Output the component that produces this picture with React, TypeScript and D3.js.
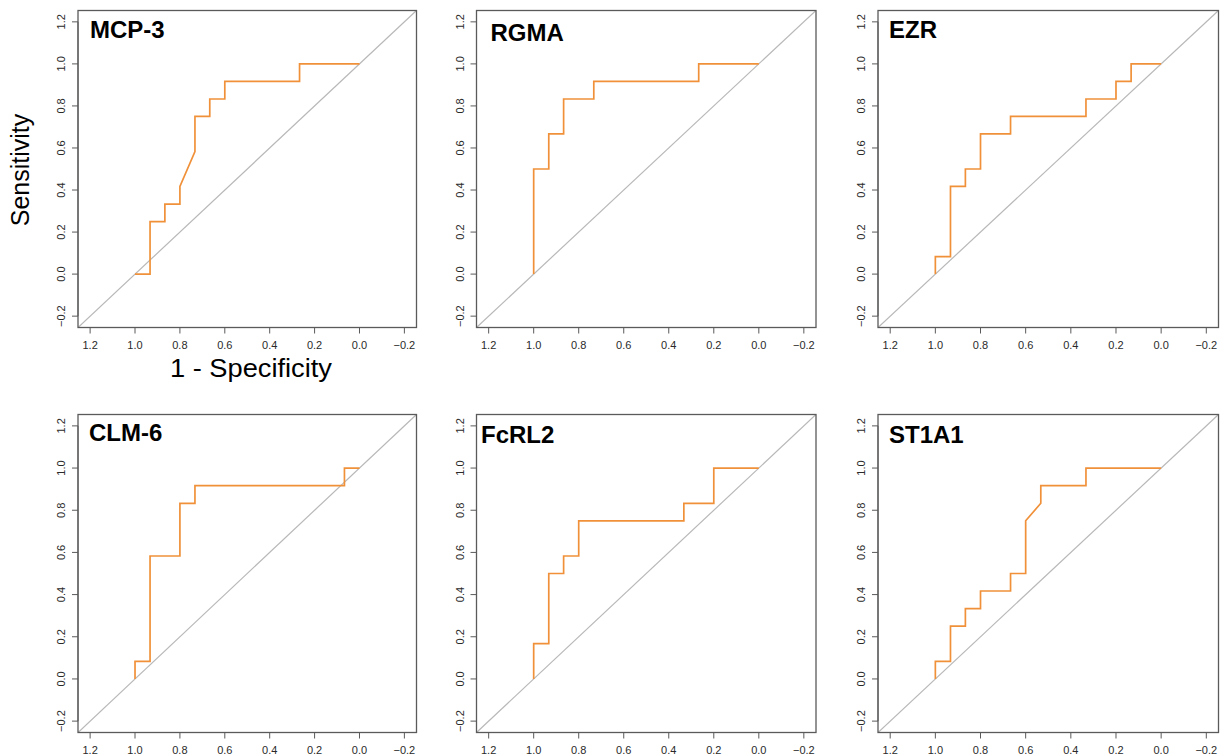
import React from "react";
import * as d3 from "d3";

// ROC curves: specificity (x, reversed) vs sensitivity (y)
const markers = ["MCP-3", "RGMA", "EZR", "CLM-6", "FcRL2", "ST1A1"];

const mcp3Spec = [1, 0.933, 0.933, 0.867, 0.867, 0.8, 0.8, 0.733, 0.733, 0.667, 0.667, 0.6, 0.6, 0.267, 0.267, 0];
const mcp3Sens = [0, 0, 0.25, 0.25, 0.333, 0.333, 0.417, 0.583, 0.75, 0.75, 0.833, 0.833, 0.917, 0.917, 1, 1];

const rgmaSpec = [1, 1, 0.933, 0.933, 0.867, 0.867, 0.733, 0.733, 0.267, 0.267, 0];
const rgmaSens = [0, 0.5, 0.5, 0.667, 0.667, 0.833, 0.833, 0.917, 0.917, 1, 1];

const ezrSpec = [1, 1, 0.933, 0.933, 0.867, 0.867, 0.8, 0.8, 0.667, 0.667, 0.333, 0.333, 0.2, 0.2, 0.133, 0.133, 0];
const ezrSens = [0, 0.083, 0.083, 0.417, 0.417, 0.5, 0.5, 0.667, 0.667, 0.75, 0.75, 0.833, 0.833, 0.917, 0.917, 1, 1];

const clm6Spec = [1, 1, 0.933, 0.933, 0.8, 0.8, 0.733, 0.733, 0.067, 0.067, 0];
const clm6Sens = [0, 0.083, 0.083, 0.583, 0.583, 0.833, 0.833, 0.917, 0.917, 1, 1];

const fcrl2Spec = [1, 1, 0.933, 0.933, 0.867, 0.867, 0.8, 0.8, 0.333, 0.333, 0.2, 0.2, 0];
const fcrl2Sens = [0, 0.167, 0.167, 0.5, 0.5, 0.583, 0.583, 0.75, 0.75, 0.833, 0.833, 1, 1];

const st1a1Spec = [1, 1, 0.933, 0.933, 0.867, 0.867, 0.8, 0.8, 0.667, 0.667, 0.6, 0.6, 0.533, 0.533, 0.333, 0.333, 0];
const st1a1Sens = [0, 0.083, 0.083, 0.25, 0.25, 0.333, 0.333, 0.417, 0.417, 0.5, 0.5, 0.75, 0.833, 0.917, 0.917, 1, 1];

const specs = [mcp3Spec, rgmaSpec, ezrSpec, clm6Spec, fcrl2Spec, st1a1Spec];
const senss = [mcp3Sens, rgmaSens, ezrSens, clm6Sens, fcrl2Sens, st1a1Sens];

const tickValues = [1.2, 1.0, 0.8, 0.6, 0.4, 0.2, 0.0, -0.2];

// panel boxes
const colLeft = [78, 476.5, 878];
const colRight = [416.5, 816, 1218.5];
const rowTop = [10.5, 414.5];
const rowBottom = [327.5, 732.5];
const titleOffset = [[12, 27], [14, 30], [11, 27], [11, 26.5], [4.5, 28.5], [11, 28.5]];

const lo = -0.254;
const hi = 1.254;
const orange = "#f0913a";
const boxCol = "#5a5a5a";
const font = "'Liberation Sans', Arial, Helvetica, sans-serif";

const fmt = (v: number) => (v < 0 ? "\u2212" + Math.abs(v).toFixed(1) : v.toFixed(1));

const Panel = ({ i }: { i: number }) => {
  const col = i % 3;
  const row = Math.floor(i / 3);
  const x0 = colLeft[col], x1 = colRight[col];
  const y0 = rowTop[row], y1 = rowBottom[row];

  const x = d3.scaleLinear().domain([hi, lo]).range([x0, x1]);
  const y = d3.scaleLinear().domain([lo, hi]).range([y1, y0]);

  const pts: [number, number][] = specs[i].map((s, k) => [s, senss[i][k]]);
  const line = d3.line<[number, number]>().x(d => x(d[0])).y(d => y(d[1]));

  const clipId = "clip" + i;
  return (
    <g>
      <defs>
        <clipPath id={clipId}>
          <rect x={x0} y={y0} width={x1 - x0} height={y1 - y0} />
        </clipPath>
      </defs>
      <line x1={x(hi)} y1={y(1 - hi)} x2={x(lo)} y2={y(1 - lo)}
        stroke="#b8b8b8" strokeWidth={1.2} clipPath={`url(#${clipId})`} />
      <path d={line(pts) || ""} fill="none" stroke={orange} strokeWidth={1.7} />
      <rect x={x0} y={y0} width={x1 - x0} height={y1 - y0} fill="none" stroke={boxCol} strokeWidth={1.3} />

      {/* x axis */}
      <line x1={x(1.2)} x2={x(-0.2)} y1={y1} y2={y1} stroke={boxCol} strokeWidth={1} />
      {tickValues.map(t => (
        <g key={"x" + t}>
          <line x1={x(t)} x2={x(t)} y1={y1} y2={y1 + 6} stroke={boxCol} strokeWidth={1} />
          <text x={x(t)} y={y1 + 21} textAnchor="middle" fontSize={11} fill="#2a2a2a" fontFamily={font}>{fmt(t)}</text>
        </g>
      ))}

      {/* y axis */}
      <line x1={x0} x2={x0} y1={y(1.2)} y2={y(-0.2)} stroke={boxCol} strokeWidth={1} />
      {tickValues.map(t => (
        <g key={"y" + t}>
          <line x1={x0} x2={x0 - 6} y1={y(t)} y2={y(t)} stroke={boxCol} strokeWidth={1} />
          <text transform={`translate(${x0 - 13},${y(t)}) rotate(-90)`} textAnchor="middle"
            fontSize={11} fill="#2a2a2a" fontFamily={font}>{fmt(t)}</text>
        </g>
      ))}

      <text x={x0 + titleOffset[i][0]} y={y0 + titleOffset[i][1]} fontSize={24} fontWeight="bold"
        fill="#000" fontFamily={font}>{markers[i]}</text>
    </g>
  );
};

export default function App() {
  return (
    <div style={{ position: "fixed", left: 0, top: 0 }}>
      <svg width={1225} height={756} style={{ display: "block", background: "#fff" }}>
        {markers.map((m, i) => <Panel key={m} i={i} />)}
        <text transform="translate(29,170) rotate(-90)" textAnchor="middle" fontSize={25}
          fill="#000" fontFamily={font}>Sensitivity</text>
        <text x={251} y={377} textAnchor="middle" fontSize={25} fill="#000" fontFamily={font}
          textLength={162} lengthAdjust="spacingAndGlyphs">1 - Specificity</text>
      </svg>
    </div>
  );
}
